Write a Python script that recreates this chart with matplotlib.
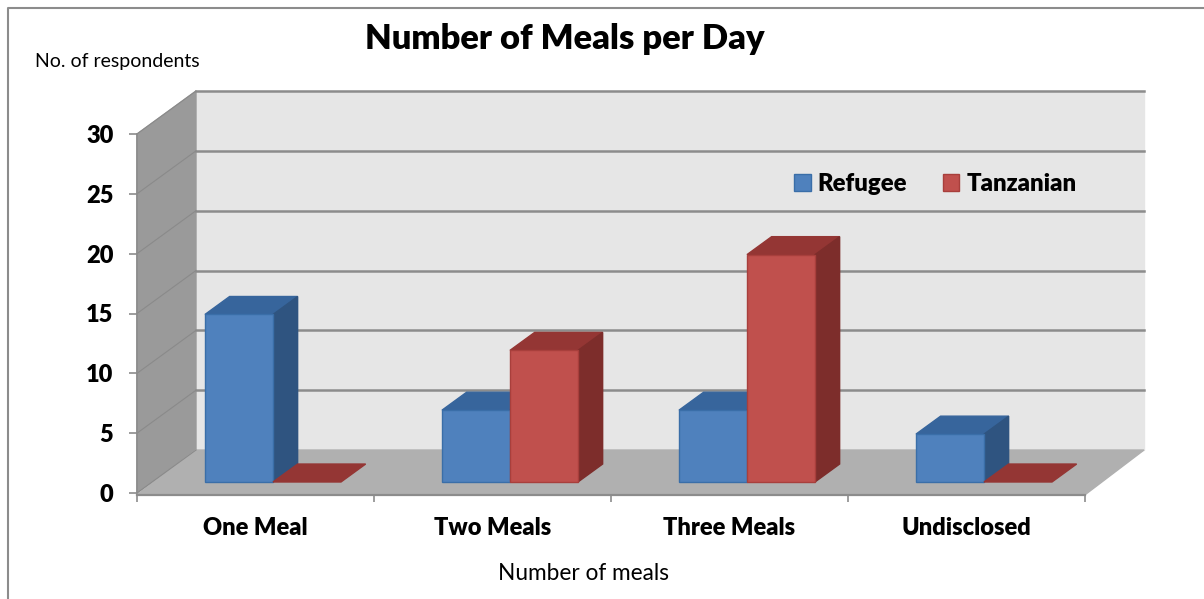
import numpy as np
import matplotlib
matplotlib.use("Agg")
import matplotlib.pyplot as plt
from matplotlib.lines import Line2D
from matplotlib.patches import Patch

plt.rcParams['font.family'] = ['Lato', 'DejaVu Sans']

# data
categories = ['One Meal', 'Two Meals', 'Three Meals', 'Undisclosed']
refugee = [14, 6, 6, 4]
tanzanian = [0, 11, 19, 0]
yticks = [0, 5, 10, 15, 20, 25, 30]

W, H = 1204, 599
fig = plt.figure(figsize=(W / 100, H / 100), dpi=100, facecolor='white')
ax = fig.add_axes([137 / W, 1 - 493 / H, 948 / W, 359 / H])
ax.set_xlim(0, 4)
ax.set_ylim(0, 30)
ax.patch.set_visible(False)

# oblique depth of the 3d box, in data units
DX = 59 / 237
DY = 43 / 11.97
BAR_W = 0.287
BAR_START = 0.223
Z0, Z1 = 0.256, 0.674


def proj(x, y, z):
    return x + z * DX, y + z * DY


def face(pts, color, edge=None, zorder=2, lw=1.0):
    xs, ys = zip(*[proj(*p) for p in pts])
    ax.fill(xs, ys, facecolor=color, edgecolor=edge or color, lw=lw, clip_on=False, zorder=zorder)


def bar3d(x, val, front, side, top, edge, zorder):
    x1 = x + BAR_W
    face([(x, val, Z0), (x1, val, Z0), (x1, val, Z1), (x, val, Z1)], top, top, zorder)
    if val > 0:
        face([(x1, 0, Z0), (x1, 0, Z1), (x1, val, Z1), (x1, val, Z0)], side, side, zorder)
        face([(x, 0, Z0), (x1, 0, Z0), (x1, val, Z0), (x, val, Z0)], front, edge, zorder)


# walls and floor
face([(0, 0, 1), (4, 0, 1), (4, 30, 1), (0, 30, 1)], '#e6e6e6', zorder=1)
face([(0, 0, 0), (0, 0, 1), (0, 30, 1), (0, 30, 0)], '#9a9a9a', zorder=1)
face([(0, -0.15, 0), (4, -0.15, 0), (4, 0, 1), (0, 0, 1)], '#b0b0b0', zorder=1)

# gridlines on the back and the left wall
for v in yticks:
    xb, yb = proj(0, v, 1)
    xe, ye = proj(4, v, 1)
    if v > 0:
        ax.plot([xb, xe], [yb, ye], color='#8c8c8c', lw=1.8, clip_on=False, zorder=1.5)
    ax.plot([0, xb], [v, yb], color='#8a8a8a', lw=0.8, clip_on=False, zorder=1.5)

for i in range(len(categories)):
    x = i + BAR_START
    bar3d(x, refugee[i], '#4f81bd', '#2f5480', '#37659c', '#3a6ea8', 3)
    bar3d(x + BAR_W, tanzanian[i], '#c0504d', '#7d2d2b', '#943634', '#a83f3c', 4)

# axes
for s in ['top', 'right']:
    ax.spines[s].set_visible(False)
ax.spines['left'].set_color('#8c8c8c')
ax.spines['bottom'].set_color('#8c8c8c')
ax.spines['left'].set_linewidth(1.2)
ax.spines['bottom'].set_linewidth(1.6)
ax.spines['bottom'].set_position(('outward', 1.5))
ax.spines['left'].set_zorder(5)
ax.spines['bottom'].set_zorder(5)

ax.set_yticks(yticks)
ax.set_yticklabels([str(v) for v in yticks], fontsize=17, fontweight='heavy')
ax.set_xticks(np.arange(5))
ax.set_xticklabels([])
ax.set_xticks(np.arange(4) + 0.5, minor=True)
ax.set_xticklabels(categories, minor=True, fontsize=17, fontweight='heavy')
ax.tick_params(axis='y', length=6, width=1.2, color='#8c8c8c', pad=11)
ax.tick_params(axis='x', which='major', length=5, width=1.2, color='#8c8c8c')
ax.tick_params(axis='x', which='minor', length=0, pad=16)

handles = [Patch(facecolor='#4f81bd', edgecolor='#3a6ea8', label='Refugee'),
           Patch(facecolor='#c0504d', edgecolor='#a83f3c', label='Tanzanian')]
fig.legend(handles=handles, ncol=2, frameon=False, loc='center',
           bbox_to_anchor=(935.5 / W, 1 - 184 / H), prop={'size': 17.2, 'weight': 'heavy'},
           handlelength=0.68, handleheight=0.68, handletextpad=0.3, columnspacing=1.5)

fig.text(565 / W, 1 - 39 / H, 'Number of Meals per Day', ha='center', va='center',
         fontsize=24.8, fontweight='heavy')
fig.text(35 / W, 1 - 62 / H, 'No. of respondents', ha='left', va='center', fontsize=14)
fig.text(583 / W, 1 - 574 / H, 'Number of meals', ha='center', va='center', fontsize=16.3)

# outer frame of the chart area
fig.add_artist(Line2D([8 / W, 8 / W, 1], [0, 1 - 8 / H, 1 - 8 / H], color='#8c8c8c', lw=1.5))

fig.savefig('out.png', dpi=100)
